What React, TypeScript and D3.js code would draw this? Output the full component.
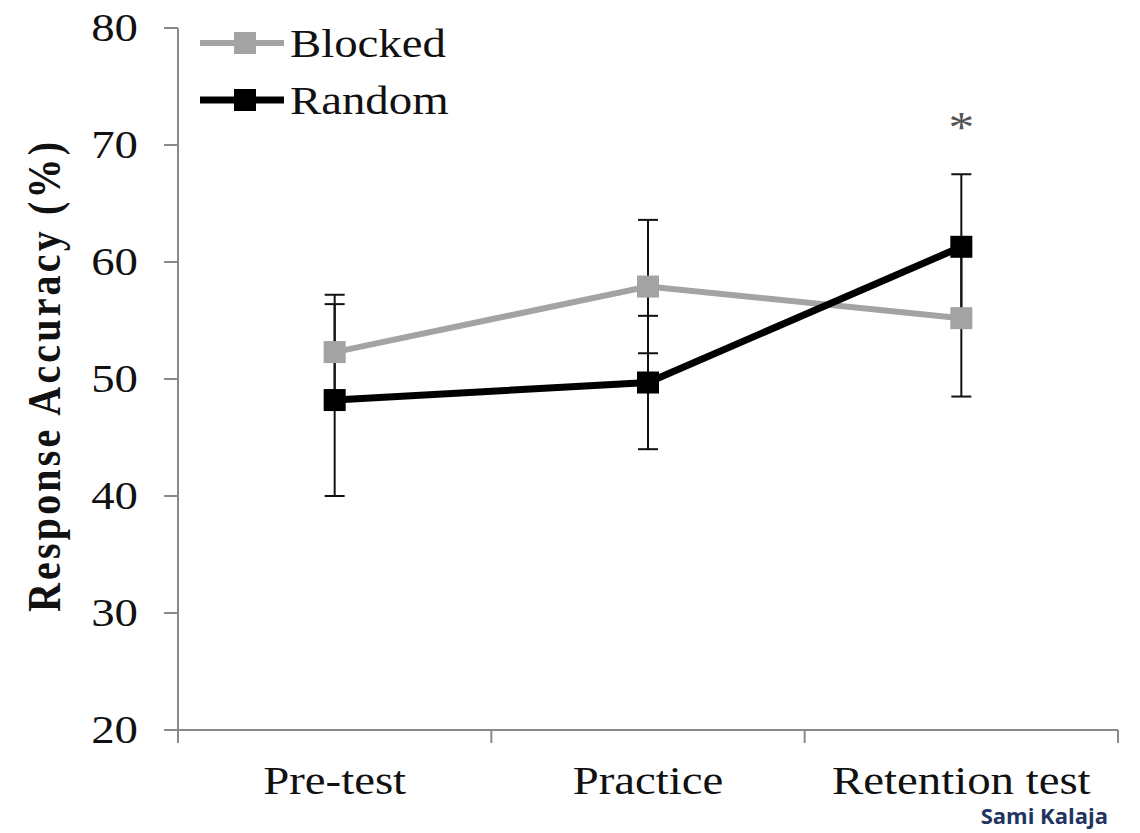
import React from 'react';
import * as d3 from 'd3';

const categories = ['Pre-test', 'Practice', 'Retention test'];
const blockedMean = [52.3, 57.9, 55.2];
const blockedErr = [4.9, 5.7, 6.7];
const randomMean = [48.2, 49.7, 61.3];
const randomErr = [8.2, 5.7, 6.2];
const yTicks = [20, 30, 40, 50, 60, 70, 80];

const serif = '"Liberation Serif", "Times New Roman", serif';
const stretch = 1.17;

export default function App() {
    let svgWidth = 1140, svgHeight = 833;
    let left = 178, right = 1118, top = 28, bottom = 730;

    let scaleX = d3.scaleBand<string>()
        .domain(categories)
        .range([left, right])
        .padding(0);
    let scaleY = d3.scaleLinear()
        .domain([20, 80])
        .range([bottom, top]);

    let cx = (c: string) => (scaleX(c) as number) + scaleX.bandwidth() / 2;

    let line = d3.line<number>()
        .x((d, i) => cx(categories[i]))
        .y(d => scaleY(d));

    let series = [
        {name: 'Blocked', mean: blockedMean, err: blockedErr, color: '#a3a3a3', width: 6},
        {name: 'Random', mean: randomMean, err: randomErr, color: '#000000', width: 7},
    ];

    let bandEdges = categories.map(c => scaleX(c) as number).concat([right]);

    return (
        <svg width={svgWidth} height={svgHeight}
             style={{position: 'absolute', left: 0, top: 0, background: '#fff'}}>
            {/* y axis */}
            <line x1={left} x2={left} y1={top} y2={bottom} stroke="#8a8a8a" strokeWidth={2}/>
            {yTicks.map(t => (
                <g key={t}>
                    <line x1={left - 14} x2={left} y1={scaleY(t)} y2={scaleY(t)} stroke="#8a8a8a" strokeWidth={2}/>
                    <text transform={`translate(${left - 40},${scaleY(t) + 13}) scale(${stretch},1)`}
                          textAnchor="end" fontFamily={serif} fontSize={40} fill="#111">{t}</text>
                </g>
            ))}
            {/* x axis */}
            <line x1={left - 14} x2={right} y1={bottom} y2={bottom} stroke="#8a8a8a" strokeWidth={2}/>
            {bandEdges.map((x, i) => (
                <line key={i} x1={x} x2={x} y1={bottom} y2={bottom + 13} stroke="#8a8a8a" strokeWidth={2}/>
            ))}
            {categories.map(c => (
                <text key={c} transform={`translate(${cx(c)},${794}) scale(${stretch},1)`}
                      textAnchor="middle" fontFamily={serif} fontSize={40} fill="#111">{c}</text>
            ))}
            {/* y label */}
            <text transform={`translate(60,${377}) rotate(-90) scale(1,${stretch})`}
                  textAnchor="middle" fontFamily={serif} fontSize={40} fontWeight="bold" fill="#111"
                  textLength={470} lengthAdjust="spacing">Response Accuracy (%)</text>

            {/* error bars */}
            {series.map(s => s.mean.map((m, i) => {
                let x = cx(categories[i]);
                let y1 = scaleY(m + s.err[i]), y2 = scaleY(m - s.err[i]);
                return (
                    <g key={s.name + i} stroke="#111" strokeWidth={2}>
                        <line x1={x} x2={x} y1={y1} y2={y2}/>
                        <line x1={x - 10} x2={x + 10} y1={y1} y2={y1}/>
                        <line x1={x - 10} x2={x + 10} y1={y2} y2={y2}/>
                    </g>
                );
            }))}

            {/* lines + markers */}
            {series.map(s => (
                <g key={s.name}>
                    <path d={line(s.mean) as string} fill="none" stroke={s.color} strokeWidth={s.width}/>
                    {s.mean.map((m, i) => (
                        <rect key={i} x={cx(categories[i]) - 11} y={scaleY(m) - 11} width={22} height={22} fill={s.color}/>
                    ))}
                </g>
            ))}

            {/* asterisk */}
            <text transform={`translate(${cx(categories[2])},${142}) scale(${stretch},1)`}
                  textAnchor="middle" fontFamily={serif} fontSize={44} fill="#555">*</text>

            {/* legend */}
            {series.map((s, i) => {
                let ly = 43 + i * 57;
                return (
                    <g key={s.name}>
                        <line x1={200} x2={284} y1={ly} y2={ly} stroke={s.color} strokeWidth={s.width}/>
                        <rect x={234} y={ly - 11} width={22} height={22} fill={s.color}/>
                        <text transform={`translate(290,${ly + 14}) scale(${stretch},1)`}
                              fontFamily={serif} fontSize={40} fill="#111">{s.name}</text>
                    </g>
                );
            })}

            {/* watermark */}
            <text x={1108} y={824} textAnchor="end" fontFamily='"Open Sans", "Noto Sans", sans-serif'
                  fontWeight="bold" fontSize={22} fill="#1f3560">Sami Kalaja</text>
        </svg>
    );
}
